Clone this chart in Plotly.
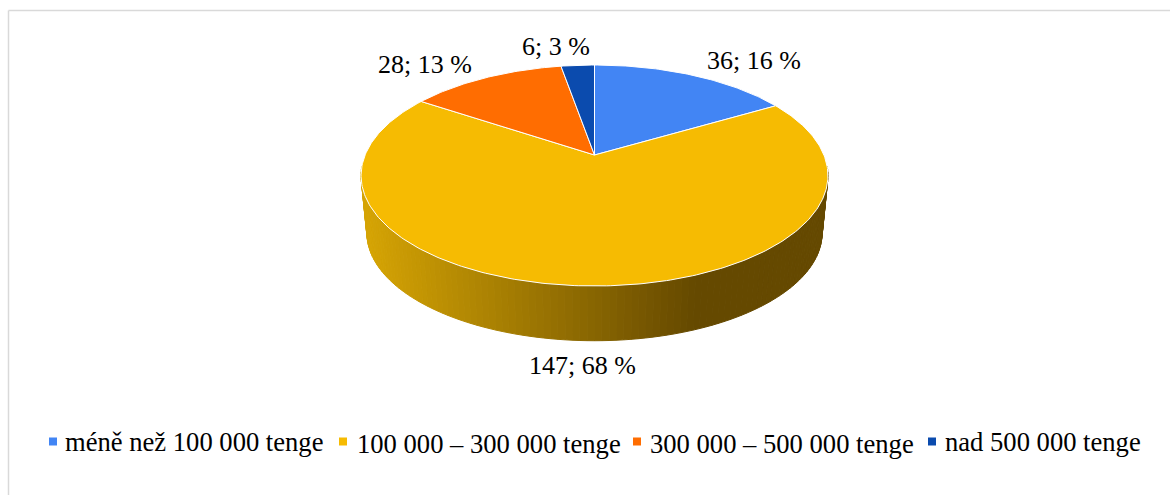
import math
import plotly.graph_objects as go

categories = ["méně než 100 000 tenge", "100 000 – 300 000 tenge",
              "300 000 – 500 000 tenge", "nad 500 000 tenge"]
counts = [36, 147, 28, 6]
percents = [16, 68, 13, 3]
colors = ["#4285F4", "#F6BB02", "#FF6D01", "#0B4BAE"]

# layout constants (pixels of a 1170x495 canvas)
CX, APEX_Y = 594.5, 155.0
A, B, K = 229.4, 106.7, 0.1855
BOT_SCALE, BOT_APEX_Y = 0.975, 213.0
FONT = "Liberation Serif"
FS = 26
FS_LEGEND = 26.6
LABEL_XY = [(754, 60), (582, 365), (425, 64), (556, 46)]
LEGEND_MARK_X = [53, 343, 637, 932]
LEGEND_TEXT_X = [63, 355, 648, 943]
LEGEND_TEXT_Y = [442, 444, 444, 442]
LEGEND_MARK_Y = 441.5


def top_pt(theta):
    d = 1 + K * math.cos(theta)
    return CX + A * math.sin(theta) / d, APEX_Y - B * math.cos(theta) / d


def bot_pt(theta):
    d = 1 + K * math.cos(theta)
    return (CX + BOT_SCALE * A * math.sin(theta) / d,
            BOT_APEX_Y - BOT_SCALE * B * math.cos(theta) / d)


def side_color(x):
    t = min(1.0, max(0.0, (x - 365) / (695 - 365)))
    c0, c1 = (213, 164, 4), (101, 73, 0)
    return "rgb(%d,%d,%d)" % tuple(round(a + (b - a) * t) for a, b in zip(c0, c1))


fig = go.Figure()

# front wall of the disc, shaded left to right
n_seg = 110
th0, th1 = math.radians(96), math.radians(264)
for i in range(n_seg):
    a0 = th0 + (th1 - th0) * i / n_seg
    a1 = th0 + (th1 - th0) * (i + 1) / n_seg
    p = [top_pt(a0), top_pt(a1), bot_pt(a1), bot_pt(a0), top_pt(a0)]
    col = side_color((p[0][0] + p[1][0]) / 2)
    fig.add_trace(go.Scatter(x=[q[0] for q in p], y=[q[1] for q in p], mode="lines",
                             fill="toself", fillcolor=col, line=dict(color=col, width=1),
                             hoverinfo="skip", showlegend=False))

# top face: one wedge per category
total = sum(counts)
start = 0.0
for name, v, col in zip(categories, counts, colors):
    end = start + v / total
    steps = max(4, int(v * 2))
    pts = [top_pt(2 * math.pi * (start + (end - start) * j / steps)) for j in range(steps + 1)]
    xs = [CX] + [q[0] for q in pts] + [CX]
    ys = [APEX_Y] + [q[1] for q in pts] + [APEX_Y]
    fig.add_trace(go.Scatter(x=xs, y=ys, mode="lines", fill="toself", fillcolor=col,
                             line=dict(color="white", width=1), name=name,
                             hoverinfo="name", showlegend=False))
    start = end

# data labels
annotations = []
for v, p, (lx, ly) in zip(counts, percents, LABEL_XY):
    annotations.append(dict(x=lx, y=ly, text=f"{v}; {p} %", showarrow=False,
                            xanchor="center", yanchor="middle",
                            font=dict(family=FONT, size=FS, color="#000000")))

# legend row
for name, col, mx, tx, ty in zip(categories, colors, LEGEND_MARK_X, LEGEND_TEXT_X, LEGEND_TEXT_Y):
    fig.add_trace(go.Scatter(x=[mx], y=[LEGEND_MARK_Y], mode="markers", name=name,
                             marker=dict(symbol="square", size=8, color=col),
                             hoverinfo="name", showlegend=False))
    annotations.append(dict(x=tx, y=ty, text=name, showarrow=False,
                            xanchor="left", yanchor="middle",
                            font=dict(family=FONT, size=FS_LEGEND, color="#000000")))

# chart frame (cropped at right and bottom in the reference)
shapes = [
    dict(type="line", x0=8.5, x1=8.5, y0=10.5, y1=495, line=dict(color="#D9D9D9", width=1.5)),
    dict(type="line", x0=8.5, x1=1170, y0=10.5, y1=10.5, line=dict(color="#D9D9D9", width=1.5)),
]

fig.update_layout(
    width=1170, height=495, margin=dict(l=0, r=0, t=0, b=0),
    paper_bgcolor="white", plot_bgcolor="white", showlegend=False,
    xaxis=dict(range=[0, 1170], visible=False, fixedrange=True),
    yaxis=dict(range=[495, 0], visible=False, fixedrange=True),
    annotations=annotations, shapes=shapes,
)
fig.write_html("out.html", config=dict(displayModeBar=False),
               post_script="document.body.style.margin='0';document.body.style.overflow='hidden';")
